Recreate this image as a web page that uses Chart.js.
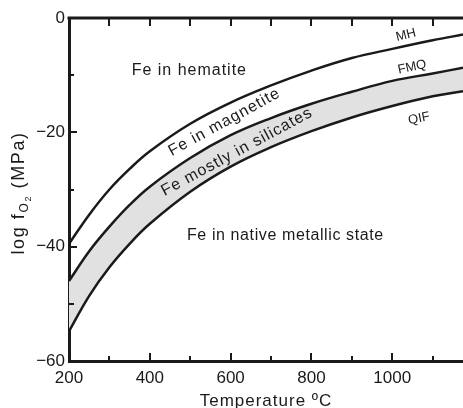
<!DOCTYPE html>
<html>
<head>
<meta charset="utf-8">
<script src="https://cdn.jsdelivr.net/npm/chart.js@4.4.1/dist/chart.umd.min.js"></script>
<style>
  html, body { margin: 0; padding: 0; background: #fff; }
  canvas { display: block; }
</style>
</head>
<body>
<canvas id="bufferChart" width="463" height="408"></canvas>
<script>
// oxygen buffer curves
const temperatures = [200, 250, 300, 350, 400, 500, 600, 700, 800, 900, 1000, 1100, 1175];
const mhValues  = [-39.5, -34.4, -30.0, -26.4, -23.3, -18.5, -14.8, -11.8, -9.2, -7.0, -5.4, -3.9, -2.9];
const fmqValues = [-46.0, -40.8, -36.5, -32.7, -29.5, -24.5, -20.5, -17.5, -15.0, -12.9, -11.0, -9.7, -8.7];
const qifValues = [-54.8, -48.6, -43.6, -39.5, -36.0, -30.4, -26.0, -22.6, -19.8, -17.4, -15.4, -13.7, -12.8];

const xTickLabels = [200, 400, 600, 800, 1000];
const yTickLabels = [0, -20, -40, -60];

const FONT = '"Liberation Sans", Arial, Helvetica, sans-serif';
const INK = '#1a1a1a';

// text labels placed in data space: [text, temperature, logfO2, angle, size, align, spacing]
const fieldLabels = [
    ['Fe in hematite', 355, -10.0, 0, 16, 'left', 1],
    ['Fe in native metallic state', 492, -38.8, 0, 16, 'left', 0.6],
    ['Fe in magnetite', 590, -18.9, -28.7, 16, 'center', 1],
    ['Fe mostly in silicates', 621, -24.1, -28.4, 16, 'center', 1],
];
const curveLabels = [
    ['MH', 1034, -3.0, -14],
    ['FMQ', 1049, -8.6, -12],
    ['QIF', 1066, -17.6, -11],
];

const toPoints = (ys) => temperatures.map((t, i) => ({ x: t, y: ys[i] }));

const curveStyle = {
    borderColor: INK,
    borderWidth: 2.5,
    pointRadius: 0,
    tension: 0.4,
};

const decorations = {
    id: 'decorations',
    afterDraw(chart) {
        const ctx = chart.ctx;
        const a = chart.chartArea;
        const xs = chart.scales.x;
        const ys = chart.scales.y;
        ctx.save();

        // top frame line
        ctx.strokeStyle = INK;
        ctx.lineWidth = 3;
        ctx.beginPath();
        ctx.moveTo(a.left - 1.5, a.top);
        ctx.lineTo(a.right, a.top);
        ctx.stroke();

        // inward ticks
        ctx.lineWidth = 2;
        for (let t = 300; t <= 1100; t += 100) {
            const px = Math.round(xs.getPixelForValue(t));
            ctx.beginPath();
            ctx.moveTo(px, a.top);
            ctx.lineTo(px, a.top + 8);
            ctx.stroke();
            const len = t % 200 === 0 ? 8 : 5;
            ctx.beginPath();
            ctx.moveTo(px, a.bottom);
            ctx.lineTo(px, a.bottom - len);
            ctx.stroke();
        }
        for (let v = -50; v <= -10; v += 10) {
            const py = Math.round(ys.getPixelForValue(v));
            const len = v % 20 === 0 ? 8 : 5;
            ctx.beginPath();
            ctx.moveTo(a.left, py);
            ctx.lineTo(a.left + len, py);
            ctx.stroke();
        }

        ctx.fillStyle = INK;

        fieldLabels.forEach(([text, t, v, ang, size, align, sp]) => {
            ctx.save();
            ctx.letterSpacing = sp + 'px';
            ctx.translate(xs.getPixelForValue(t), ys.getPixelForValue(v));
            ctx.rotate(ang * Math.PI / 180);
            ctx.font = size + 'px ' + FONT;
            ctx.textAlign = align;
            ctx.textBaseline = 'alphabetic';
            ctx.fillText(text, 0, 0);
            ctx.restore();
        });

        ctx.letterSpacing = '0px';
        curveLabels.forEach(([text, t, v, ang]) => {
            ctx.save();
            ctx.translate(xs.getPixelForValue(t), ys.getPixelForValue(v));
            ctx.rotate(ang * Math.PI / 180);
            ctx.font = '13px ' + FONT;
            ctx.textAlign = 'center';
            ctx.textBaseline = 'middle';
            ctx.fillText(text, 0, 0);
            ctx.restore();
        });

        // x axis title
        ctx.letterSpacing = '1px';
        ctx.font = '17px ' + FONT;
        ctx.textAlign = 'center';
        ctx.textBaseline = 'alphabetic';
        ctx.fillText('Temperature \u00baC', (a.left + a.right) / 2, 406);

        // y axis title with subscript O2
        ctx.letterSpacing = '1.6px';
        const parts = [
            ['log f', 18, 0],
            ['O', 12, 4],
            ['2', 9, 7],
            [' (MPa)', 18, 0],
        ];
        let total = 0;
        parts.forEach(p => {
            ctx.font = p[1] + 'px ' + FONT;
            total += ctx.measureText(p[0]).width;
        });
        ctx.save();
        ctx.translate(24, 193);
        ctx.rotate(-Math.PI / 2);
        ctx.textAlign = 'left';
        let x = -total / 2;
        parts.forEach(p => {
            ctx.font = p[1] + 'px ' + FONT;
            ctx.fillText(p[0], x, p[2]);
            x += ctx.measureText(p[0]).width;
        });
        ctx.restore();

        ctx.restore();
    }
};

new Chart(document.getElementById('bufferChart'), {
    type: 'line',
    data: {
        datasets: [
            { label: 'MH', data: toPoints(mhValues), fill: false, ...curveStyle },
            { label: 'FMQ', data: toPoints(fmqValues), fill: '+1', backgroundColor: '#e1e1e1', ...curveStyle },
            { label: 'QIF', data: toPoints(qifValues), fill: false, ...curveStyle },
        ]
    },
    options: {
        responsive: false,
        animation: false,
        layout: { padding: { top: 18, left: 0, right: 0, bottom: 0 } },
        plugins: {
            legend: { display: false },
            tooltip: { enabled: false },
            filler: { drawTime: 'beforeDatasetsDraw' },
        },
        scales: {
            x: {
                type: 'linear',
                min: 200,
                max: 1175,
                grid: { display: false, drawTicks: false },
                border: { display: true, width: 3, color: INK },
                ticks: {
                    color: INK,
                    font: { family: FONT, size: 17 },
                    padding: 7,
                    maxRotation: 0,
                    autoSkip: false,
                    callback: (v) => String(v),
                },
                afterBuildTicks: (s) => { s.ticks = xTickLabels.map(v => ({ value: v })); },
                afterFit: (s) => { s.height = 47; },
            },
            y: {
                min: -60,
                max: 0,
                grid: { display: false, drawTicks: false },
                border: { display: true, width: 3, color: INK },
                ticks: {
                    color: INK,
                    font: { family: FONT, size: 17 },
                    padding: 4,
                    callback: (v) => (v < 0 ? '\u2212' + Math.abs(v) : String(v)),
                },
                afterBuildTicks: (s) => { s.ticks = yTickLabels.map(v => ({ value: v })); },
                afterFit: (s) => { s.width = 69; },
            }
        }
    },
    plugins: [decorations]
});
</script>
</body>
</html>
